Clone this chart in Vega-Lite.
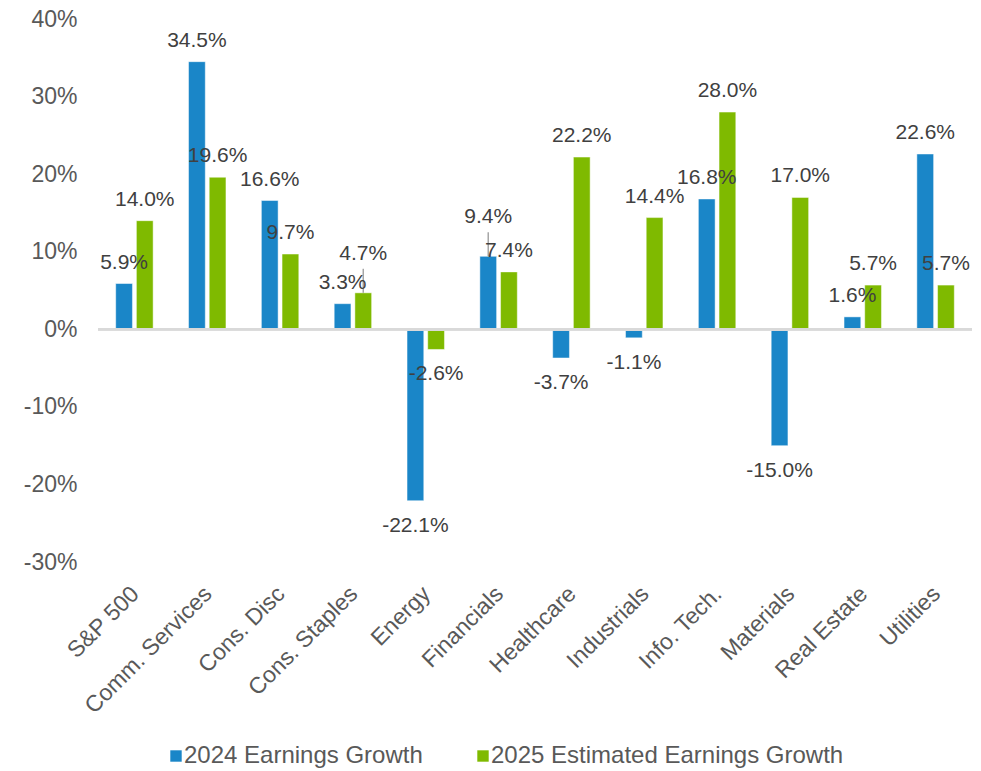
{
  "$schema": "https://vega.github.io/schema/vega-lite/v6.json",
  "autosize": "none",
  "width": 874,
  "height": 543,
  "padding": {"left": 98, "top": 19, "right": 9, "bottom": 209},
  "background": "white",
  "config": {
    "view": {"stroke": null},
    "font": "Liberation Sans",
    "text": {"font": "Liberation Sans"},
    "locale": {
      "number": {"decimal": ".", "thousands": ",", "grouping": [3], "currency": ["$", ""], "minus": "-"}
    }
  },
  "data": {
    "values": [
      {"sector": "S&P 500", "series": "2024 Earnings Growth", "value": 0.059},
      {"sector": "S&P 500", "series": "2025 Estimated Earnings Growth", "value": 0.140},
      {"sector": "Comm. Services", "series": "2024 Earnings Growth", "value": 0.345},
      {"sector": "Comm. Services", "series": "2025 Estimated Earnings Growth", "value": 0.196},
      {"sector": "Cons. Disc", "series": "2024 Earnings Growth", "value": 0.166},
      {"sector": "Cons. Disc", "series": "2025 Estimated Earnings Growth", "value": 0.097},
      {"sector": "Cons. Staples", "series": "2024 Earnings Growth", "value": 0.033},
      {"sector": "Cons. Staples", "series": "2025 Estimated Earnings Growth", "value": 0.047},
      {"sector": "Energy", "series": "2024 Earnings Growth", "value": -0.221},
      {"sector": "Energy", "series": "2025 Estimated Earnings Growth", "value": -0.026},
      {"sector": "Financials", "series": "2024 Earnings Growth", "value": 0.094},
      {"sector": "Financials", "series": "2025 Estimated Earnings Growth", "value": 0.074},
      {"sector": "Healthcare", "series": "2024 Earnings Growth", "value": -0.037},
      {"sector": "Healthcare", "series": "2025 Estimated Earnings Growth", "value": 0.222},
      {"sector": "Industrials", "series": "2024 Earnings Growth", "value": -0.011},
      {"sector": "Industrials", "series": "2025 Estimated Earnings Growth", "value": 0.144},
      {"sector": "Info. Tech.", "series": "2024 Earnings Growth", "value": 0.168},
      {"sector": "Info. Tech.", "series": "2025 Estimated Earnings Growth", "value": 0.280},
      {"sector": "Materials", "series": "2024 Earnings Growth", "value": -0.150},
      {"sector": "Materials", "series": "2025 Estimated Earnings Growth", "value": 0.170},
      {"sector": "Real Estate", "series": "2024 Earnings Growth", "value": 0.016},
      {"sector": "Real Estate", "series": "2025 Estimated Earnings Growth", "value": 0.057},
      {"sector": "Utilities", "series": "2024 Earnings Growth", "value": 0.226},
      {"sector": "Utilities", "series": "2025 Estimated Earnings Growth", "value": 0.057}
    ]
  },
  "transform": [
    {"joinaggregate": [{"op": "max", "field": "value", "as": "maxv"}, {"op": "min", "field": "value", "as": "minv"}], "groupby": ["sector"]},
    {"calculate": "datum.value == datum.maxv ? datum.minv : datum.maxv", "as": "other"},
    {"calculate": "datum.value > 0 && datum.other >= 0 && datum.value > datum.other && datum.value - datum.other < 0.025", "as": "raised"}
  ],
  "encoding": {
    "x": {
      "field": "sector",
      "type": "nominal",
      "sort": null,
      "scale": {"paddingInner": 0.486, "paddingOuter": 0.243},
      "axis": {
        "title": null,
        "domain": false,
        "ticks": false,
        "tickSize": 0,
        "labelAngle": -45,
        "labelAlign": "right",
        "labelBaseline": "middle",
        "labelPadding": 28,
        "labelOffset": 1,
        "labelFontSize": 23,
        "labelColor": "#595959",
        "labelFont": "Liberation Sans"
      }
    },
    "xOffset": {
      "field": "series",
      "type": "nominal",
      "scale": {"paddingInner": 0.19, "paddingOuter": 0}
    },
    "y": {
      "field": "value",
      "type": "quantitative",
      "scale": {"domain": [-0.3, 0.4], "nice": false, "zero": false},
      "axis": {
        "title": null,
        "format": ".0%",
        "values": [-0.3, -0.2, -0.1, 0, 0.1, 0.2, 0.3, 0.4],
        "grid": false,
        "domain": false,
        "ticks": false,
        "tickSize": 0,
        "labelPadding": 21,
        "labelFontSize": 23,
        "labelColor": "#595959",
        "labelFont": "Liberation Sans"
      }
    }
  },
  "layer": [
    {
      "mark": {"type": "bar", "stroke": "white", "strokeWidth": 0.8, "strokeOpacity": 0.6},
      "encoding": {
        "color": {
          "field": "series",
          "type": "nominal",
          "scale": {
            "domain": ["2024 Earnings Growth", "2025 Estimated Earnings Growth"],
            "range": ["#1a86c8", "#7fba00"]
          },
          "legend": {
            "title": null,
            "orient": "none",
            "direction": "horizontal",
            "legendX": 66,
            "legendY": 725,
            "symbolType": "square",
            "symbolSize": 130,
            "symbolStrokeWidth": 0,
            "labelFontSize": 24,
            "labelColor": "#595959",
            "labelFont": "Liberation Sans",
            "labelLimit": 500,
            "labelOffset": -4,
            "columnPadding": 48,
            "padding": 0
          }
        }
      }
    },
    {
      "mark": {"type": "rule", "color": "#d9d9d9", "strokeWidth": 2},
      "encoding": {"y": {"datum": 0}, "x": null, "xOffset": null}
    },
    {
      "transform": [{"filter": "datum.raised"}, {"calculate": "datum.value + 0.031", "as": "leaderTop"}],
      "mark": {"type": "rule", "color": "#a6a6a6", "strokeWidth": 1.5},
      "encoding": {"y2": {"field": "leaderTop"}}
    },
    {
      "transform": [{"filter": "datum.value >= 0 && !datum.raised"}],
      "mark": {"type": "text", "baseline": "alphabetic", "dy": -15, "fontSize": 21, "color": "#404040", "font": "Liberation Sans"},
      "encoding": {"text": {"field": "value", "type": "quantitative", "format": ".1%"}}
    },
    {
      "transform": [{"filter": "datum.raised"}],
      "mark": {"type": "text", "baseline": "alphabetic", "dy": -33, "fontSize": 21, "color": "#404040", "font": "Liberation Sans"},
      "encoding": {"text": {"field": "value", "type": "quantitative", "format": ".1%"}}
    },
    {
      "transform": [{"filter": "datum.value < 0"}],
      "mark": {"type": "text", "baseline": "alphabetic", "dy": 31, "fontSize": 21, "color": "#404040", "font": "Liberation Sans"},
      "encoding": {"text": {"field": "value", "type": "quantitative", "format": ".1%"}}
    }
  ]
}
